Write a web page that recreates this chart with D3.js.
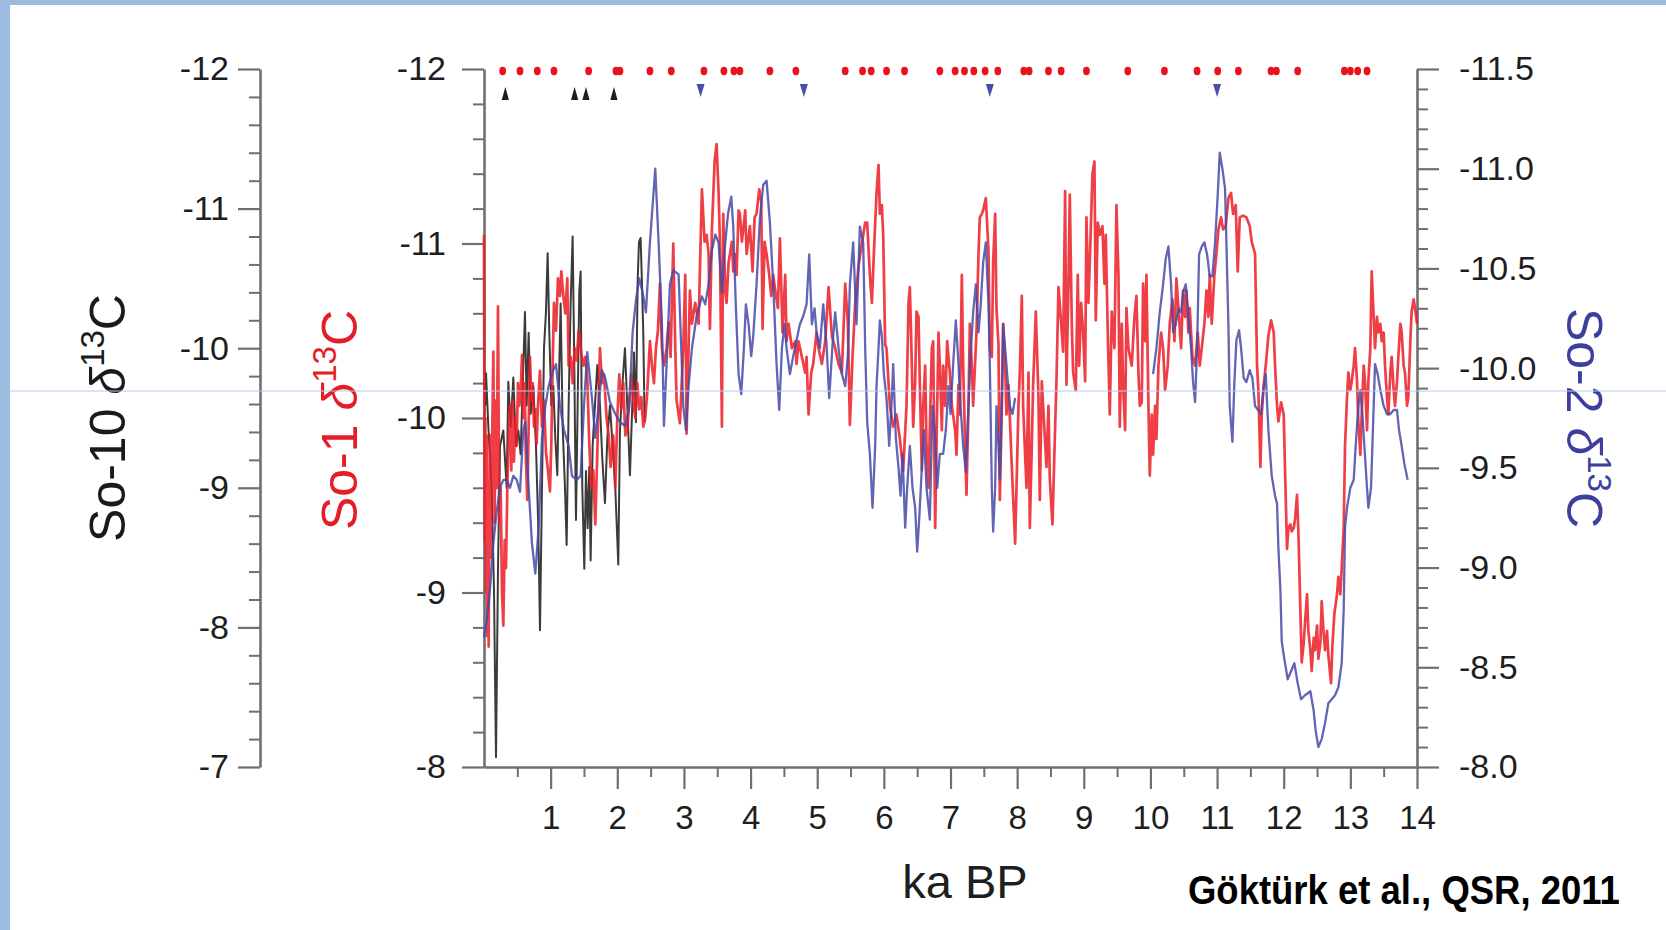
<!DOCTYPE html>
<html>
<head>
<meta charset="utf-8">
<script src="https://cdn.jsdelivr.net/npm/d3@7"></script>
<style>
  html, body { margin: 0; padding: 0; background: #fff; }
  svg { display: block; }
</style>
</head>
<body>
<svg id="chart" width="1666" height="930"></svg>
<script>
// ---------------------------------------------------------------
// Sofular Cave stalagmite δ13C records (‰ VPDB) against age (ka BP)
// ---------------------------------------------------------------

// So-1 δ13C  [age ka, value]
const so1 = [
  [0.00,-11.05],[0.01,-9.30],[0.02,-10.00],[0.03,-9.00],[0.04,-9.90],[0.05,-8.75],[0.06,-9.60],[0.07,-8.69],[0.08,-9.50],[0.09,-9.90],
  [0.10,-9.20],[0.12,-9.80],[0.14,-10.38],[0.16,-9.40],[0.17,-10.10],[0.19,-9.60],[0.21,-10.64],[0.23,-9.40],[0.25,-9.60],[0.27,-9.00],
  [0.29,-8.81],[0.31,-9.30],[0.33,-9.14],[0.35,-9.60],[0.37,-9.90],[0.39,-10.07],[0.41,-9.70],[0.43,-10.10],[0.45,-9.75],[0.47,-10.00],
  [0.49,-9.84],[0.51,-10.20],[0.53,-10.07],[0.55,-10.15],[0.57,-10.36],[0.59,-10.00],[0.61,-10.20],[0.63,-9.75],[0.65,-9.53],[0.67,-9.95],
  [0.69,-10.35],[0.71,-10.10],[0.73,-10.20],[0.75,-9.95],[0.77,-10.05],[0.79,-9.85],[0.81,-10.07],[0.84,-10.27],[0.87,-9.95],[0.90,-10.10],
  [0.93,-9.80],[0.96,-9.70],[0.99,-9.58],[1.01,-9.85],[1.03,-10.30],[1.05,-10.66],[1.08,-10.50],[1.11,-10.80],[1.14,-10.70],[1.16,-10.84],
  [1.19,-10.70],[1.22,-10.60],[1.25,-10.80],[1.27,-10.30],[1.30,-10.35],[1.33,-10.20],[1.36,-10.40],[1.39,-10.33],[1.42,-10.50],[1.46,-10.37],
  [1.49,-10.30],[1.52,-10.35],[1.55,-10.22],[1.58,-9.85],[1.61,-9.60],[1.64,-9.70],[1.67,-9.39],[1.70,-9.80],[1.72,-10.10],[1.74,-10.40],
  [1.77,-10.20],[1.80,-10.25],[1.84,-10.00],[1.87,-9.90],[1.90,-9.72],[1.94,-9.90],[1.97,-9.60],[2.00,-10.00],[2.03,-10.25],[2.06,-10.05],
  [2.09,-10.20],[2.12,-9.90],[2.15,-9.93],[2.18,-10.10],[2.21,-10.25],[2.24,-10.10],[2.27,-10.00],[2.30,-10.20],[2.33,-10.05],[2.36,-10.12],
  [2.39,-9.95],[2.42,-10.00],[2.45,-10.15],[2.49,-10.44],[2.52,-10.30],[2.55,-10.20],[2.58,-10.40],[2.61,-10.50],[2.64,-10.77],[2.67,-10.40],
  [2.70,-10.30],[2.74,-10.40],[2.77,-10.55],[2.80,-10.35],[2.84,-11.00],[2.87,-10.40],[2.89,-10.10],[2.94,-9.97],[2.99,-10.40],[3.02,-10.82],
  [3.04,-9.91],[3.09,-10.73],[3.12,-10.54],[3.17,-10.66],[3.22,-10.54],[3.27,-11.31],[3.31,-11.01],[3.34,-11.05],[3.37,-10.94],[3.39,-10.51],
  [3.42,-11.08],[3.46,-11.47],[3.49,-11.57],[3.52,-11.29],[3.54,-11.01],[3.57,-9.95],[3.59,-11.17],[3.62,-10.73],[3.64,-10.66],[3.67,-10.89],
  [3.72,-11.01],[3.74,-10.84],[3.77,-10.94],[3.79,-10.82],[3.82,-11.19],[3.84,-11.17],[3.87,-11.01],[3.92,-11.19],[3.94,-10.94],[3.99,-11.10],
  [4.03,-10.84],[4.06,-11.15],[4.09,-11.17],[4.13,-11.31],[4.16,-11.24],[4.18,-10.51],[4.21,-11.01],[4.24,-10.94],[4.28,-10.82],[4.31,-10.70],
  [4.34,-10.82],[4.37,-10.73],[4.41,-10.63],[4.44,-11.03],[4.48,-10.49],[4.52,-10.82],[4.54,-10.44],[4.57,-10.54],[4.62,-10.40],[4.67,-10.44],
  [4.69,-10.31],[4.72,-10.44],[4.77,-10.35],[4.82,-10.26],[4.84,-10.35],[4.87,-10.02],[4.91,-10.26],[4.94,-10.31],[4.99,-10.49],[5.02,-10.40],
  [5.07,-10.31],[5.12,-10.44],[5.17,-10.75],[5.22,-10.47],[5.27,-10.40],[5.32,-10.31],[5.37,-10.26],[5.42,-10.77],[5.46,-10.54],[5.49,-9.96],
  [5.53,-10.35],[5.57,-10.66],[5.62,-10.87],[5.67,-11.00],[5.72,-11.12],[5.75,-11.12],[5.79,-10.82],[5.82,-10.66],[5.85,-10.94],[5.89,-11.29],
  [5.92,-11.45],[5.94,-11.17],[5.97,-11.22],[5.99,-11.05],[6.02,-10.42],[6.04,-10.40],[6.09,-10.07],[6.14,-9.95],[6.19,-10.02],[6.24,-9.88],
  [6.29,-9.70],[6.34,-10.07],[6.37,-10.66],[6.39,-10.75],[6.42,-10.30],[6.44,-9.95],[6.47,-10.21],[6.49,-10.61],[6.52,-10.58],[6.54,-10.19],
  [6.57,-9.70],[6.59,-10.07],[6.62,-10.30],[6.64,-9.84],[6.67,-9.60],[6.69,-9.95],[6.72,-10.40],[6.74,-10.44],[6.77,-9.37],[6.79,-9.84],
  [6.82,-10.49],[6.84,-10.30],[6.87,-9.93],[6.89,-10.30],[6.92,-10.07],[6.95,-10.44],[6.99,-10.26],[7.02,-10.07],[7.07,-9.93],[7.09,-9.79],
  [7.12,-10.19],[7.14,-10.02],[7.17,-10.82],[7.19,-10.30],[7.22,-9.84],[7.24,-9.56],[7.27,-10.07],[7.29,-10.54],[7.32,-10.30],[7.34,-10.07],
  [7.39,-10.49],[7.42,-10.94],[7.44,-11.15],[7.47,-11.17],[7.49,-11.19],[7.53,-11.26],[7.57,-10.96],[7.59,-10.40],[7.62,-10.35],[7.64,-10.89],
  [7.67,-11.17],[7.69,-10.63],[7.72,-10.42],[7.74,-9.53],[7.77,-10.07],[7.79,-10.54],[7.82,-10.30],[7.84,-10.02],[7.87,-10.19],[7.92,-9.72],
  [7.97,-9.28],[7.99,-9.60],[8.02,-10.07],[8.04,-10.26],[8.07,-10.70],[8.09,-10.07],[8.14,-9.60],[8.17,-10.26],[8.19,-9.37],[8.22,-9.84],
  [8.24,-10.19],[8.28,-10.61],[8.32,-10.12],[8.34,-9.53],[8.37,-10.21],[8.39,-10.07],[8.44,-9.72],[8.47,-10.07],[8.49,-9.65],[8.53,-9.39],
  [8.57,-9.95],[8.59,-10.21],[8.62,-10.75],[8.65,-10.60],[8.69,-10.38],[8.72,-11.30],[8.74,-10.19],[8.77,-10.77],[8.79,-11.28],[8.82,-10.54],
  [8.84,-10.26],[8.88,-10.16],[8.91,-10.82],[8.93,-10.30],[8.96,-10.66],[8.99,-10.49],[9.02,-10.21],[9.04,-11.15],[9.07,-10.66],[9.09,-10.89],
  [9.13,-11.40],[9.16,-11.47],[9.18,-10.56],[9.21,-11.12],[9.24,-11.05],[9.28,-11.10],[9.31,-10.77],[9.33,-11.05],[9.36,-10.49],[9.39,-10.02],
  [9.42,-10.61],[9.46,-10.40],[9.49,-11.22],[9.52,-10.82],[9.54,-9.95],[9.57,-10.54],[9.59,-10.19],[9.62,-9.93],[9.64,-10.63],[9.67,-10.40],
  [9.72,-10.30],[9.76,-10.58],[9.79,-10.70],[9.82,-10.26],[9.84,-10.07],[9.87,-10.09],[9.89,-10.77],[9.92,-10.44],[9.94,-10.82],[9.97,-10.07],
  [9.99,-9.67],[10.02,-10.02],[10.04,-9.79],[10.07,-10.07],[10.09,-9.88],[10.12,-10.30],[10.16,-10.49],[10.19,-10.40],[10.22,-10.16],[10.26,-10.30],
  [10.29,-10.54],[10.33,-10.68],[10.36,-10.44],[10.39,-10.80],[10.42,-10.63],[10.46,-10.40],[10.49,-10.73],[10.52,-10.58],[10.54,-10.73],[10.57,-10.49],
  [10.59,-10.63],[10.63,-10.35],[10.67,-10.30],[10.71,-10.49],[10.74,-10.30],[10.77,-10.40],[10.81,-10.54],[10.84,-10.73],[10.87,-10.58],[10.89,-10.82],
  [10.92,-10.54],[10.96,-10.82],[10.99,-10.94],[11.02,-11.08],[11.06,-11.15],[11.09,-11.08],[11.13,-11.10],[11.17,-11.26],[11.21,-11.29],[11.24,-11.17],
  [11.28,-11.22],[11.31,-10.84],[11.34,-11.15],[11.39,-11.16],[11.44,-11.15],[11.49,-11.10],[11.52,-11.01],[11.57,-10.94],[11.60,-10.30],[11.62,-10.16],
  [11.65,-9.72],[11.67,-10.02],[11.70,-10.19],[11.73,-10.30],[11.77,-10.47],[11.81,-10.56],[11.85,-10.49],[11.87,-10.30],[11.90,-10.07],[11.92,-9.98],
  [11.96,-10.09],[12.00,-10.02],[12.02,-9.70],[12.05,-9.25],[12.07,-9.37],[12.10,-9.39],[12.12,-9.35],[12.15,-9.37],[12.17,-9.42],[12.20,-9.56],
  [12.22,-9.35],[12.25,-8.90],[12.27,-8.60],[12.30,-8.71],[12.32,-8.83],[12.35,-8.99],[12.37,-8.78],[12.40,-8.67],[12.42,-8.55],[12.45,-8.74],
  [12.47,-8.67],[12.50,-8.81],[12.52,-8.62],[12.55,-8.71],[12.57,-8.95],[12.60,-8.76],[12.62,-8.67],[12.65,-8.78],[12.67,-8.64],[12.71,-8.48],
  [12.73,-8.69],[12.76,-8.88],[12.80,-8.99],[12.82,-9.09],[12.85,-8.99],[12.87,-9.14],[12.90,-9.37],[12.92,-9.84],[12.95,-10.12],[12.97,-10.26],
  [13.00,-10.16],[13.02,-10.21],[13.05,-10.30],[13.07,-10.40],[13.10,-10.21],[13.12,-9.98],[13.15,-9.79],[13.17,-10.02],[13.20,-10.30],[13.22,-10.21],
  [13.25,-9.93],[13.27,-10.21],[13.30,-10.40],[13.32,-10.84],[13.35,-10.58],[13.37,-10.40],[13.40,-10.58],[13.42,-10.49],[13.45,-10.54],[13.47,-10.44],
  [13.50,-10.49],[13.52,-10.30],[13.55,-10.12],[13.57,-10.02],[13.60,-10.26],[13.62,-10.35],[13.65,-10.16],[13.67,-10.07],[13.70,-10.21],[13.72,-10.35],
  [13.75,-10.54],[13.77,-10.49],[13.80,-10.30],[13.82,-10.26],[13.85,-10.07],[13.87,-10.12],[13.90,-10.44],[13.92,-10.61],[13.95,-10.68],[13.97,-10.63],
  [14.00,-10.54]
];

// So-2 δ13C  [age ka, value]; null marks the growth hiatus
const so2 = [
  [0.00,-8.65],[0.04,-8.73],[0.09,-8.89],[0.14,-9.12],[0.19,-9.28],[0.24,-9.40],[0.29,-9.44],[0.34,-9.44],[0.39,-9.40],[0.44,-9.46],
  [0.49,-9.44],[0.54,-9.38],[0.59,-9.69],[0.62,-9.73],[0.67,-9.40],[0.72,-9.12],[0.77,-8.97],[0.82,-9.20],[0.87,-9.65],[0.92,-9.81],
  [0.97,-9.91],[1.04,-9.99],[1.08,-10.02],[1.14,-9.81],[1.20,-9.69],[1.27,-9.61],[1.32,-9.46],[1.39,-9.44],[1.45,-9.46],[1.50,-9.81],
  [1.55,-10.08],[1.62,-9.85],[1.67,-9.65],[1.72,-9.81],[1.77,-9.99],[1.82,-9.95],[1.89,-9.83],[1.97,-9.77],[2.04,-9.73],[2.12,-9.71],
  [2.18,-9.81],[2.23,-10.18],[2.28,-10.34],[2.33,-10.45],[2.38,-10.38],[2.43,-10.28],[2.49,-10.63],[2.57,-11.00],[2.62,-10.63],[2.67,-10.22],
  [2.70,-9.71],[2.74,-10.02],[2.79,-10.42],[2.84,-10.49],[2.92,-10.47],[2.96,-10.10],[2.99,-9.81],[3.03,-9.69],[3.07,-9.91],[3.12,-10.10],
  [3.19,-10.26],[3.27,-10.36],[3.32,-10.32],[3.37,-10.42],[3.42,-10.59],[3.47,-10.67],[3.52,-10.63],[3.57,-10.38],[3.61,-10.59],[3.66,-10.77],
  [3.71,-10.86],[3.74,-10.71],[3.78,-10.30],[3.82,-9.97],[3.86,-9.87],[3.90,-10.10],[3.93,-10.32],[3.97,-10.22],[4.01,-10.06],[4.04,-10.16],
  [4.09,-10.42],[4.14,-10.75],[4.19,-10.92],[4.24,-10.94],[4.29,-10.73],[4.34,-10.42],[4.39,-10.02],[4.43,-9.79],[4.47,-10.10],[4.51,-10.22],
  [4.54,-10.10],[4.59,-9.97],[4.64,-10.06],[4.69,-10.14],[4.74,-10.22],[4.79,-10.26],[4.84,-10.32],[4.88,-10.57],[4.92,-10.22],[4.96,-10.30],
  [4.99,-10.18],[5.04,-10.10],[5.09,-10.32],[5.14,-10.12],[5.18,-9.85],[5.23,-10.12],[5.27,-10.28],[5.32,-10.10],[5.37,-9.97],[5.42,-9.91],
  [5.46,-10.06],[5.49,-10.42],[5.54,-10.63],[5.59,-10.22],[5.64,-10.71],[5.69,-10.63],[5.72,-10.10],[5.75,-9.73],[5.79,-9.57],[5.83,-9.30],
  [5.87,-9.61],[5.89,-9.91],[5.92,-10.10],[5.94,-10.24],[5.97,-10.16],[6.00,-9.97],[6.04,-9.85],[6.08,-9.61],[6.12,-9.85],[6.14,-10.02],
  [6.18,-9.65],[6.22,-9.50],[6.25,-9.36],[6.28,-9.57],[6.32,-9.20],[6.35,-9.40],[6.39,-9.61],[6.43,-9.40],[6.47,-9.30],[6.50,-9.08],
  [6.53,-9.24],[6.57,-9.50],[6.60,-9.69],[6.64,-9.40],[6.69,-9.24],[6.73,-9.81],[6.77,-9.65],[6.80,-9.40],[6.84,-9.57],[6.89,-9.57],
  [6.93,-9.69],[6.97,-9.91],[7.00,-9.77],[7.04,-10.02],[7.08,-10.24],[7.12,-10.02],[7.15,-9.81],[7.19,-9.61],[7.23,-9.48],[7.27,-9.81],
  [7.30,-10.06],[7.34,-10.28],[7.38,-10.42],[7.42,-10.18],[7.45,-10.30],[7.49,-10.53],[7.53,-10.63],[7.57,-10.32],[7.59,-10.02],[7.62,-9.40],
  [7.64,-9.18],[7.67,-9.40],[7.69,-9.81],[7.72,-9.61],[7.74,-9.44],[7.77,-9.81],[7.79,-10.22],[7.82,-10.10],[7.85,-9.97],[7.89,-9.81],
  [7.93,-9.77],[7.97,-9.85],[9.00,null],
  [10.04,-9.97],[10.09,-10.10],[10.14,-10.28],[10.19,-10.42],[10.23,-10.55],[10.27,-10.61],[10.31,-10.42],[10.34,-10.18],[10.38,-10.22],[10.42,-10.30],
  [10.46,-10.28],[10.49,-10.38],[10.53,-10.42],[10.57,-10.26],[10.61,-10.10],[10.64,-9.93],[10.67,-9.83],[10.70,-10.10],[10.73,-10.57],[10.77,-10.61],
  [10.81,-10.63],[10.85,-10.57],[10.89,-10.46],[10.93,-10.46],[10.97,-10.63],[11.01,-10.87],[11.04,-11.08],[11.08,-11.00],[11.12,-10.90],[11.14,-10.63],
  [11.17,-10.22],[11.19,-9.81],[11.23,-9.63],[11.26,-9.93],[11.29,-10.14],[11.33,-10.19],[11.36,-10.10],[11.40,-9.95],[11.44,-9.93],[11.49,-9.99],
  [11.53,-9.95],[11.57,-9.81],[11.66,-9.77],[11.70,-9.91],[11.73,-9.97],[11.77,-9.69],[11.82,-9.46],[11.87,-9.36],[11.90,-9.32],[11.92,-9.10],
  [11.95,-8.89],[11.97,-8.63],[12.01,-8.54],[12.06,-8.44],[12.11,-8.48],[12.16,-8.52],[12.21,-8.42],[12.26,-8.34],[12.32,-8.36],[12.40,-8.38],
  [12.45,-8.28],[12.48,-8.18],[12.52,-8.10],[12.57,-8.14],[12.62,-8.22],[12.67,-8.32],[12.72,-8.34],[12.77,-8.36],[12.82,-8.40],[12.87,-8.52],
  [12.90,-8.79],[12.92,-9.20],[12.95,-9.30],[13.00,-9.40],[13.05,-9.44],[13.08,-9.61],[13.12,-9.81],[13.15,-9.89],[13.18,-9.77],[13.21,-9.61],
  [13.25,-9.40],[13.27,-9.30],[13.31,-9.40],[13.35,-9.81],[13.37,-10.02],[13.41,-9.97],[13.45,-9.89],[13.50,-9.81],[13.55,-9.77],[13.60,-9.77],
  [13.65,-9.79],[13.70,-9.79],[13.73,-9.69],[13.77,-9.61],[13.81,-9.52],[13.86,-9.44]
];

// So-10 δ13C  [age ka, value]
const so10 = [
  [0.02,-9.59],[0.03,-9.82],[0.065,-9.44],[0.115,-9.00],[0.15,-8.27],[0.18,-7.07],[0.21,-8.42],[0.24,-9.30],[0.29,-9.41],[0.34,-9.00],
  [0.365,-9.76],[0.40,-9.44],[0.44,-9.79],[0.48,-9.30],[0.515,-9.41],[0.55,-9.24],[0.59,-9.88],[0.615,-10.26],[0.64,-9.59],[0.67,-10.11],
  [0.70,-9.53],[0.74,-9.73],[0.78,-9.30],[0.815,-8.71],[0.84,-7.98],[0.87,-9.00],[0.90,-10.00],[0.93,-10.26],[0.955,-10.68],[0.98,-10.11],
  [1.01,-9.59],[1.04,-9.73],[1.07,-9.35],[1.10,-9.09],[1.13,-9.88],[1.15,-10.32],[1.18,-9.44],[1.215,-9.00],[1.24,-8.59],[1.27,-9.59],
  [1.30,-10.32],[1.33,-10.80],[1.355,-9.88],[1.38,-8.77],[1.405,-9.59],[1.43,-10.41],[1.45,-10.55],[1.475,-9.00],[1.505,-8.42],[1.53,-9.12],
  [1.555,-8.71],[1.58,-9.15],[1.60,-8.48],[1.63,-9.30],[1.665,-9.59],[1.70,-9.88],[1.74,-9.59],[1.775,-9.21],[1.815,-8.89],[1.85,-9.35],
  [1.89,-9.59],[1.93,-9.30],[1.97,-9.00],[2.015,-8.45],[2.04,-9.41],[2.08,-9.76],[2.115,-10.00],[2.15,-9.59],[2.19,-9.09],[2.225,-9.59],
  [2.25,-9.97],[2.28,-9.47],[2.305,-10.47],[2.325,-10.76],[2.35,-10.79],[2.37,-10.47],[2.39,-10.11],[2.41,-9.47]
];

// Age control points (ka) along the top of the plot
const so1Dates = [0.28,0.54,0.80,1.05,1.57,1.98,2.04,2.49,2.81,3.30,3.60,3.75,3.84,4.29,4.68,5.42,5.68,5.81,6.04,6.31,
                  6.84,7.07,7.21,7.35,7.52,7.71,8.10,8.18,8.47,8.66,9.04,9.66,10.21,10.70,11.01,11.32,11.81,11.89,12.21,
                  12.91,13.00,13.11,13.25];
const so2Dates = [3.25,4.80,7.59,11.00];
const so10Dates = [0.32,1.36,1.53,1.95];

// Tick values and labels
const xTicks = [1,2,3,4,5,6,7,8,9,10,11,12,13,14];
const so1Ticks = [-12,-11,-10,-9,-8];
const so2Ticks = [-11.5,-11.0,-10.5,-10.0,-9.5,-9.0,-8.5,-8.0];
const so10Ticks = [-12,-11,-10,-9,-8,-7];

// ---------------------------------------------------------------
const W = 1666, H = 930;
const FONT = "'Liberation Sans', Arial, Helvetica, sans-serif";
const AXIS = "#6f6f6f";
const RED = "#ec1c24", BLUE = "#4649a8", BLACK = "#262626";
const svg = d3.select("#chart");

svg.append("rect").attr("width", W).attr("height", H).attr("fill", "#ffffff");
// slide frame
svg.append("rect").attr("x", 0).attr("y", 0).attr("width", 10).attr("height", H).attr("fill", "#9dbbdf");
svg.append("rect").attr("x", 0).attr("y", 0).attr("width", W).attr("height", 5).attr("fill", "#9dbbdf");

const plot = { left: 484, right: 1417, top: 69, bottom: 767 };
const so10AxisX = 260;

const x = d3.scaleLinear().domain([0, 14]).range([plot.left, plot.right]);
const y1 = d3.scaleLinear().domain([-12, -8]).range([plot.top, plot.bottom]);
const y2 = d3.scaleLinear().domain([-11.5, -8]).range([plot.top, plot.bottom]);
const y10 = d3.scaleLinear().domain([-12, -7]).range([plot.top, plot.bottom]);

function styleAxis(g, size) {
  g.attr("font-family", null).attr("font-size", null);
  g.select(".domain").attr("stroke", AXIS).attr("stroke-width", 2.6);
  g.selectAll(".tick line").attr("stroke", AXIS).attr("stroke-width", 2.2);
  g.selectAll(".tick text").attr("fill", "#1e1e1e")
    .style("font-family", FONT).style("font-size", size + "px");
}
function minorAxis(axis, at) {
  const g = svg.append("g").attr("transform", at).call(axis.tickFormat(""));
  g.select(".domain").remove();
  g.selectAll(".tick line").attr("stroke", AXIS).attr("stroke-width", 2);
}
const isMinor = v => Math.abs(v - Math.round(v)) > 1e-6;
const so10Minor = d3.range(0, 26).map(i => -12 + i * 0.2).filter(isMinor);
const so1Minor = d3.range(0, 21).map(i => -12 + i * 0.2).filter(isMinor);
const so2Minor = d3.range(0, 36).map(i => -11.5 + i * 0.1).filter(v => Math.abs(v * 2 - Math.round(v * 2)) > 1e-6);
const xMinor = d3.range(0, 14).map(i => i + 0.5);

// So-10 axis (far left)
minorAxis(d3.axisLeft(y10).tickValues(so10Minor).tickSize(11), `translate(${so10AxisX},0)`);
svg.append("g").attr("transform", `translate(${so10AxisX},0)`)
  .call(d3.axisLeft(y10).tickValues(so10Ticks).tickSize(22).tickSizeOuter(0).tickPadding(9).tickFormat(d => String(d)))
  .call(g => styleAxis(g, 34));

// So-1 axis
minorAxis(d3.axisLeft(y1).tickValues(so1Minor).tickSize(11), `translate(${plot.left},0)`);
svg.append("g").attr("transform", `translate(${plot.left},0)`)
  .call(d3.axisLeft(y1).tickValues(so1Ticks).tickSize(22).tickSizeOuter(0).tickPadding(16).tickFormat(d => String(d)))
  .call(g => styleAxis(g, 34));

// So-2 axis (right)
minorAxis(d3.axisRight(y2).tickValues(so2Minor).tickSize(11), `translate(${plot.right},0)`);
svg.append("g").attr("transform", `translate(${plot.right},0)`)
  .call(d3.axisRight(y2).tickValues(so2Ticks).tickSize(22).tickSizeOuter(0).tickPadding(20).tickFormat(d => d.toFixed(1)))
  .call(g => styleAxis(g, 34));

// Age axis
minorAxis(d3.axisBottom(x).tickValues(xMinor).tickSize(10), `translate(0,${plot.bottom})`);
svg.append("g").attr("transform", `translate(0,${plot.bottom})`)
  .call(d3.axisBottom(x).tickValues(xTicks).tickSize(22).tickSizeOuter(0).tickPadding(17).tickFormat(d => String(d)))
  .call(g => styleAxis(g, 33));

// Records
const lineOf = yScale => d3.line()
  .defined(d => d[1] !== null)
  .x(d => x(d[0]))
  .y(d => yScale(d[1]));

svg.append("path").datum(so10).attr("d", lineOf(y10))
  .attr("fill", "none").attr("stroke", BLACK).attr("stroke-width", 2)
  .attr("stroke-opacity", 0.9).attr("stroke-linejoin", "round");
svg.append("path").datum(so1).attr("d", lineOf(y1))
  .attr("fill", "none").attr("stroke", RED).attr("stroke-width", 2.7)
  .attr("stroke-opacity", 0.85).attr("stroke-linejoin", "round");
svg.append("path").datum(so2).attr("d", lineOf(y2))
  .attr("fill", "none").attr("stroke", BLUE).attr("stroke-width", 2.3)
  .attr("stroke-opacity", 0.85).attr("stroke-linejoin", "round");

// Dating markers
svg.append("g").selectAll("ellipse").data(so1Dates).join("ellipse")
  .attr("cx", d => x(d)).attr("cy", 71).attr("rx", 3.4).attr("ry", 4.2)
  .attr("fill", "#e8141c");
svg.append("g").selectAll("path").data(so2Dates).join("path")
  .attr("d", d => { const cx = x(d); return `M${cx - 4},84L${cx + 4},84L${cx},97Z`; })
  .attr("fill", "#4a4ca6");
svg.append("g").selectAll("path").data(so10Dates).join("path")
  .attr("d", d => { const cx = x(d); return `M${cx},87L${cx + 3.6},100L${cx - 3.6},100Z`; })
  .attr("fill", "#1e1e1e");

// Axis titles
function axisTitle(tx, ty, rot, prefix, color) {
  const t = svg.append("text")
    .attr("transform", `translate(${tx},${ty}) rotate(${rot})`)
    .attr("text-anchor", "middle")
    .attr("fill", color)
    .style("font-family", FONT).style("font-size", "50px");
  t.append("tspan").text(prefix + " ");
  t.append("tspan").style("font-style", "italic").text("δ");
  t.append("tspan").attr("dy", -21).style("font-size", "33px").text("13");
  t.append("tspan").attr("dy", 21).text("C");
}
axisTitle(125, 418, -90, "So-10", "#1a1a1a");
axisTitle(357, 420, -90, "So-1", "#e31e26");
axisTitle(1567, 418, 90, "So-2", "#3c3f9e");

svg.append("text").attr("x", 965).attr("y", 898).attr("text-anchor", "middle")
  .attr("fill", "#1e1e1e").style("font-family", FONT).style("font-size", "47px")
  .text("ka BP");

// citation, set in a slightly condensed bold face
svg.append("text").attr("transform", "translate(1188,904) scale(0.89,1)")
  .attr("fill", "#000").style("font-family", FONT).style("font-size", "41px").style("font-weight", "bold")
  .text("Göktürk et al., QSR, 2011");

// slide guide line
svg.append("line").attr("x1", 10).attr("x2", W).attr("y1", 391).attr("y2", 391)
  .attr("stroke", "#b3cbea").attr("stroke-width", 1.2);
</script>
</body>
</html>
